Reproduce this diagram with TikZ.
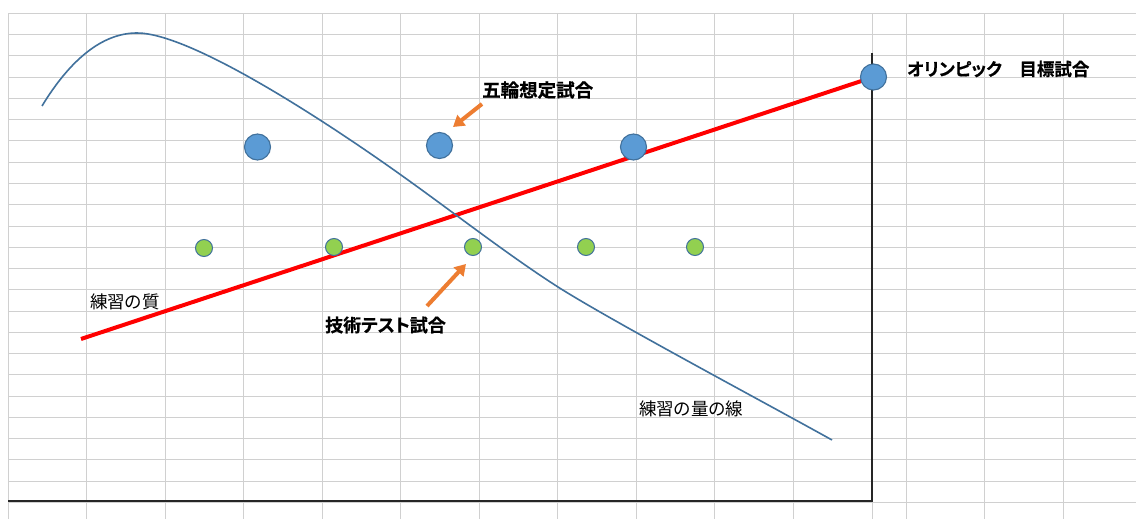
\documentclass[tikz,border=0pt]{standalone}
\usepackage{fontspec}
\newfontfamily\jp[RawFeature=+palt]{Noto Sans CJK JP}
\newfontfamily\jpb[RawFeature=+palt, FakeBold=0.6]{Noto Sans CJK JP Bold}
\usetikzlibrary{arrows.meta}
\definecolor{gridc}{HTML}{D0D0D0}
\definecolor{curvec}{HTML}{41719C}
\definecolor{bluefill}{HTML}{5B9BD5}
\definecolor{blueedge}{HTML}{41719C}
\definecolor{greenfill}{HTML}{92D050}
\definecolor{orangec}{HTML}{ED7D31}
\pgfdeclarelayer{gridlayer}
\pgfdeclarelayer{linelayer}
\pgfsetlayers{gridlayer,linelayer,main}
\tikzset{
  gridline/.style={draw=gridc, line width=1pt},
  axisline/.style={draw=black!85, line width=1.3pt},
  bigdot/.style={circle, fill=bluefill, draw=blueedge, line width=1.1pt, minimum size=26pt, inner sep=0pt},
  smalldot/.style={circle, fill=greenfill, draw=blueedge, line width=1pt, minimum size=17pt, inner sep=0pt},
  qualityline/.style={draw=red, line width=4pt},
  amountcurve/.style={draw=curvec, line width=1.6pt},
  pointer/.style={draw=orangec, line width=4pt, -{Triangle[length=11pt,width=13pt]}},
  boldlabel/.style={anchor=west, inner sep=0pt, font=\jpb\fontsize{17.5}{20}\selectfont},
  plainlabel/.style={anchor=west, inner sep=0pt, font=\jp\fontsize{17.5}{20}\selectfont},
}
\begin{document}
\begin{tikzpicture}[x=1pt, y=-1pt]
\useasboundingbox (0,0) rectangle (1136,519);
% grid
\begin{pgfonlayer}{gridlayer}
\fill[white] (0,0) rectangle (1136,519);
\foreach \k in {0,...,23}
  \draw[gridline] (8,13.3+21.27*\k) -- (1136,13.3+21.27*\k);
\foreach \xx in {8,86.5,165,243.5,322,400.5,479,557.5,636,714.5,793,872,906,984.5,1063}
  \draw[gridline] (\xx,13.3) -- (\xx,519);
\end{pgfonlayer}
% axes
\coordinate (axtop) at (872,53);
\coordinate (axcorner) at (872,501);
\coordinate (axleft) at (8,501);
\draw[axisline] (axtop) -- (axcorner) -- (axleft);
% match points
\node[bigdot] (b1) at (257.5,147) {};
\node[bigdot] (b2) at (439.5,145.5) {};
\node[bigdot] (b3) at (633.5,147) {};
\node[bigdot] (oly) at (873.5,77) {};
\node[smalldot] (g1) at (204,248) {};
\node[smalldot] (g2) at (334,247) {};
\node[smalldot] (g3) at (473,247) {};
\node[smalldot] (g4) at (586,247) {};
\node[smalldot] (g5) at (695,247) {};
% quality line and amount curve
\coordinate (qstart) at (81,339);
\coordinate (cstart) at (42,106);
\coordinate (cpeak) at (137,33);
\coordinate (cmid) at (401,175);
\coordinate (cbend) at (558,287);
\coordinate (cend) at (832,440);
\begin{pgfonlayer}{linelayer}
\draw[qualityline] (qstart) -- (oly.center);
\draw[amountcurve] (cstart) .. controls (70,60) and (102,33) .. (cpeak)
  .. controls (192,33) and (331,125) .. (cmid)
  .. controls (453,212) and (508,255) .. (cbend)
  .. controls (610,320) and (760,400) .. (cend);
\end{pgfonlayer}
% labels
\node[boldlabel] (tOly) at (907,69) {オリンピック　目標試合};
\node[boldlabel, font=\jpb\fontsize{18.5}{20}\selectfont] (tGorin) at (482,90) {五輪想定試合};
\node[boldlabel, font=\jpb\fontsize{18}{20}\selectfont] (tTech) at (325,325) {技術テスト試合};
\node[plainlabel] (tQual) at (90,302) {練習の質};
\node[plainlabel] (tAmt) at (639,409) {練習の量の線};
% pointers
\coordinate (p1tail) at (482,104);
\coordinate (p1tip) at (453,127);
\coordinate (p2tail) at (427,306);
\coordinate (p2tip) at (466,264);
\draw[pointer] (p1tail) -- (p1tip);
\draw[pointer] (p2tail) -- (p2tip);
\end{tikzpicture}
\end{document}
